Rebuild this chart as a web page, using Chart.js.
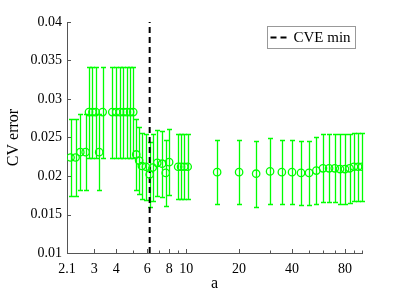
<!DOCTYPE html>
<html>
<head>
<meta charset="utf-8">
<script src="https://cdn.jsdelivr.net/npm/chart.js@4/dist/chart.umd.min.js"></script>
<style>
  body { margin: 0; background: #fff; }
  canvas { display: block; }
</style>
</head>
<body>
<canvas id="myChart" width="399" height="299"></canvas>
<script>
// values of a and the cross-validation error (mean and half error bar)
const aVals = [2.2, 2.35, 2.5, 2.68, 2.8, 2.93, 3.06, 3.2, 3.35,
  3.8, 4.0, 4.2, 4.4, 4.6, 4.8, 5.0,
  5.2, 5.4, 5.6, 5.9, 6.2, 6.45, 6.85, 7.3, 7.65, 8.0,
  9.0, 9.35, 9.75, 10.2,
  15, 20, 25, 30, 35, 40, 45, 50, 55, 60, 65, 70, 75, 80, 85, 90, 95, 100];
const cvErr = [0.0224, 0.0224, 0.0231, 0.0231, 0.0283, 0.0283, 0.0283, 0.0231, 0.0283,
  0.0283, 0.0283, 0.0283, 0.0283, 0.0283, 0.0283, 0.0283,
  0.0228, 0.0220, 0.0213, 0.0212, 0.0202, 0.0211, 0.0217, 0.0216, 0.0204, 0.0218,
  0.0212, 0.0212, 0.0212, 0.0212,
  0.0205, 0.0205, 0.0203, 0.0206, 0.0205, 0.0205, 0.0204, 0.0204, 0.0207, 0.0210,
  0.0210, 0.0210, 0.0209, 0.0209, 0.0210, 0.0212, 0.0212, 0.0212];
const cvStd = [0.0050, 0.0050, 0.0049, 0.0049, 0.0059, 0.0059, 0.0059, 0.0049, 0.0059,
  0.0059, 0.0059, 0.0059, 0.0059, 0.0059, 0.0059, 0.0059,
  0.0046, 0.0044, 0.0043, 0.0043, 0.0042, 0.0043, 0.0043, 0.0043, 0.0043, 0.0043,
  0.0042, 0.0042, 0.0042, 0.0042,
  0.0042, 0.0042, 0.0043, 0.0043, 0.0042, 0.0042, 0.0042, 0.0042, 0.0043, 0.0044,
  0.0044, 0.0044, 0.0045, 0.0045, 0.0045, 0.0044, 0.0044, 0.0044];
const cveMin = 6.2;

const xTicks = [2.1, 3, 4, 6, 8, 10, 20, 40, 80];
const xMinorTicks = [5, 7, 9, 30, 50, 60, 70, 90, 100];
const yTicks = [0.01, 0.015, 0.02, 0.025, 0.03, 0.035, 0.04];

const green = 'rgb(0, 255, 0)';
const serif = "'Liberation Serif', 'Times New Roman', serif";

// error bars drawn with the chart scales
const errorBars = {
  id: 'errorBars',
  beforeDatasetsDraw(chart) {
    const { ctx, scales: { x, y } } = chart;
    ctx.save();
    ctx.strokeStyle = green;
    ctx.lineWidth = 1.3;
    aVals.forEach((a, i) => {
      const px = Math.round(x.getPixelForValue(a)) + 0.5;
      const top = Math.round(y.getPixelForValue(cvErr[i] + cvStd[i])) + 0.5;
      const bot = Math.round(y.getPixelForValue(cvErr[i] - cvStd[i])) + 0.5;
      ctx.beginPath();
      ctx.moveTo(px, top); ctx.lineTo(px, bot);
      ctx.moveTo(px - 2.5, top); ctx.lineTo(px + 2.5, top);
      ctx.moveTo(px - 2.5, bot); ctx.lineTo(px + 2.5, bot);
      ctx.stroke();
    });
    ctx.restore();
  }
};

// inward tick marks and the boxed legend
const decorations = {
  id: 'decorations',
  afterDraw(chart) {
    const { ctx, chartArea: area, scales: { x, y } } = chart;
    ctx.save();
    ctx.strokeStyle = '#555';
    ctx.lineWidth = 1;
    ctx.beginPath();
    yTicks.forEach(v => {
      const py = Math.round(y.getPixelForValue(v)) + 0.5;
      ctx.moveTo(area.left, py); ctx.lineTo(area.left + 4, py);
    });
    xTicks.forEach(v => {
      const px = Math.round(x.getPixelForValue(v)) + 0.5;
      ctx.moveTo(px, area.bottom); ctx.lineTo(px, area.bottom - 4);
    });
    xMinorTicks.forEach(v => {
      const px = Math.round(x.getPixelForValue(v)) + 0.5;
      ctx.moveTo(px, area.bottom); ctx.lineTo(px, area.bottom - 2.5);
    });
    ctx.stroke();

    // legend
    const lx = 267.5, ly = 26.5, lw = 88, lh = 22;
    ctx.fillStyle = '#fff';
    ctx.fillRect(lx, ly, lw, lh);
    ctx.strokeStyle = '#999';
    ctx.strokeRect(lx, ly, lw, lh);
    ctx.strokeStyle = '#000';
    ctx.lineWidth = 2;
    ctx.setLineDash([6, 4]);
    ctx.beginPath();
    ctx.moveTo(lx + 3, ly + 11); ctx.lineTo(lx + 19, ly + 11);
    ctx.stroke();
    ctx.setLineDash([]);
    ctx.fillStyle = '#000';
    ctx.font = '15px ' + serif;
    ctx.textBaseline = 'middle';
    ctx.fillText('CVE min', lx + 26, ly + 12);
    ctx.restore();
  }
};

const ctx1 = document.getElementById('myChart');

new Chart(ctx1, {
  type: 'scatter',
  data: {
    datasets: [{
      label: 'CV error',
      data: aVals.map((a, i) => ({ x: a, y: cvErr[i] })),
      showLine: false,
      pointStyle: 'circle',
      pointRadius: 3.7,
      pointBorderWidth: 1.3,
      borderColor: green,
      backgroundColor: 'rgba(0,0,0,0)'
    }, {
      label: 'CVE min',
      type: 'line',
      data: [{ x: cveMin, y: yTicks[0] }, { x: cveMin, y: yTicks[yTicks.length - 1] }],
      borderColor: '#000',
      borderWidth: 2,
      borderDash: [6, 4],
      pointRadius: 0,
      fill: false
    }]
  },
  options: {
    responsive: false,
    animation: false,
    devicePixelRatio: 1,
    layout: { padding: { top: 22, right: 37, left: 0, bottom: 0 } },
    plugins: {
      legend: { display: false },
      tooltip: { enabled: false }
    },
    scales: {
      x: {
        type: 'logarithmic',
        min: 2.1,
        max: 100,
        afterBuildTicks: (scale) => { scale.ticks = xTicks.map(v => ({ value: v })); },
        afterFit: (scale) => { scale.height = 46; },
        grid: { display: false, drawTicks: false },
        border: { display: true, color: '#555', width: 1 },
        ticks: {
          autoSkip: false,
          maxRotation: 0,
          padding: 8,
          color: '#000',
          font: { family: serif, size: 14 },
          callback: (v) => String(v)
        },
        title: {
          display: true,
          text: 'a',
          color: '#000',
          font: { family: serif, size: 16 },
          padding: { top: 0, bottom: 6 }
        }
      },
      y: {
        min: 0.01,
        max: 0.04,
        afterBuildTicks: (scale) => { scale.ticks = yTicks.map(v => ({ value: v })); },
        afterFit: (scale) => { scale.width = 67; },
        grid: { display: false, drawTicks: false },
        border: { display: true, color: '#555', width: 1 },
        ticks: {
          padding: 5,
          color: '#000',
          font: { family: serif, size: 14 },
          callback: (v) => String(+v.toFixed(3))
        },
        title: {
          display: true,
          text: 'CV error',
          color: '#000',
          font: { family: serif, size: 16 },
          padding: { top: 4, bottom: 4 }
        }
      }
    }
  },
  plugins: [errorBars, decorations]
});
</script>
</body>
</html>
